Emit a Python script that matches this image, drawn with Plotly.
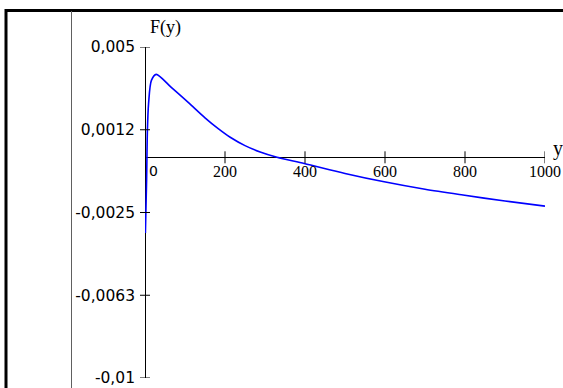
import plotly.graph_objects as go

# ---- data ----
y_vals = [1, 4, 6, 9, 16, 28, 65, 108, 150, 183, 213, 250, 288, 330, 398,
          500, 598, 700, 795, 900, 1000]
F_vals = [-0.00343, -0.00103, 0.00123, 0.00245, 0.00349, 0.00376, 0.00318, 0.00249, 0.00179,
          0.0013, 0.00091, 0.00053, 0.00024, 0.0, -0.00028,
          -0.00073, -0.00111, -0.00145, -0.00171, -0.00198, -0.00221]

x_ticks = [0, 200, 400, 600, 800, 1000]
x_tick_labels = ["0", "200", "400", "600", "800", "1000"]
y_ticks = [0.005, 0.00125, -0.0025, -0.00625, -0.01]
y_tick_labels = ["0,005", "0,0012", "-0,0025", "-0,0063", "-0,01"]

x_range = [0, 1000]
y_range = [-0.01, 0.005]

W, H = 563, 388
ML, MR, MT, MB = 145, 18, 47, 10
PW, PH = W - ML - MR, H - MT - MB


def px_to_paper_x(px):
    return (px - ML) / PW


def px_to_paper_y(py):
    return (H - MB - py) / PH


fig = go.Figure()
fig.add_trace(go.Scatter(x=y_vals, y=F_vals, mode="lines",
                         line=dict(color="#0000FF", width=1.6, shape="spline", smoothing=0.8),
                         showlegend=False, cliponaxis=False))

serif = "Liberation Serif, Times New Roman, serif"
sans = "DejaVu Sans, Verdana, sans-serif"

xpos = (0 - y_range[0]) / (y_range[1] - y_range[0])

fig.update_layout(
    width=W, height=H,
    margin=dict(l=ML, r=MR, t=MT, b=MB, pad=0),
    paper_bgcolor="white", plot_bgcolor="white",
    xaxis=dict(range=x_range, showgrid=False, zeroline=True, zerolinecolor="black",
               zerolinewidth=1, showline=False, ticks="", anchor="free", position=xpos,
               tickmode="array", tickvals=x_ticks, ticktext=[""] + x_tick_labels[1:],
               tickfont=dict(family=serif, size=16, color="black"),
               ticklabelstandoff=3, automargin=False, fixedrange=True),
    yaxis=dict(range=y_range, showgrid=False, zeroline=True, zerolinecolor="black",
               zerolinewidth=1, showline=False, ticks="",
               tickmode="array", tickvals=y_ticks, ticktext=y_tick_labels,
               tickfont=dict(family=sans, size=15.5, color="black"),
               ticklabelstandoff=9, automargin=False, fixedrange=True),
)

shapes = []
# crossing tick marks
for v in x_ticks:
    shapes.append(dict(type="line", xref="x", yref="paper",
                       x0=v, x1=v, y0=px_to_paper_y(151.3), y1=px_to_paper_y(163.3),
                       line=dict(color="black", width=1)))
for v in y_ticks:
    shapes.append(dict(type="line", xref="paper", yref="y",
                       y0=v, y1=v, x0=px_to_paper_x(140), x1=px_to_paper_x(150),
                       line=dict(color="black", width=1)))
# outer frame lines
shapes.append(dict(type="line", xref="paper", yref="paper",
                   x0=px_to_paper_x(5), x1=px_to_paper_x(570),
                   y0=px_to_paper_y(10.5), y1=px_to_paper_y(10.5),
                   line=dict(color="black", width=3)))
shapes.append(dict(type="line", xref="paper", yref="paper",
                   x0=px_to_paper_x(6), x1=px_to_paper_x(6),
                   y0=px_to_paper_y(9), y1=px_to_paper_y(395),
                   line=dict(color="black", width=3)))
shapes.append(dict(type="line", xref="paper", yref="paper",
                   x0=px_to_paper_x(71.5), x1=px_to_paper_x(71.5),
                   y0=px_to_paper_y(11), y1=px_to_paper_y(395),
                   line=dict(color="#606060", width=1)))
fig.update_layout(shapes=shapes)

fig.add_annotation(x=x_ticks[0], y=0, xref="x", yref="y", text=x_tick_labels[0],
                   showarrow=False, xanchor="center", yanchor="middle",
                   xshift=8, yshift=-14, font=dict(family=sans, size=14, color="black"))
fig.add_annotation(x=px_to_paper_x(165), y=px_to_paper_y(28), xref="paper", yref="paper",
                   text="F(y)", showarrow=False, xanchor="center", yanchor="middle",
                   font=dict(family=serif, size=18, color="black"))
fig.add_annotation(x=px_to_paper_x(551), y=px_to_paper_y(148), xref="paper", yref="paper",
                   text="y", showarrow=False, xanchor="left", yanchor="middle",
                   font=dict(family=serif, size=20, color="black"))

fig.write_html("out.html")
